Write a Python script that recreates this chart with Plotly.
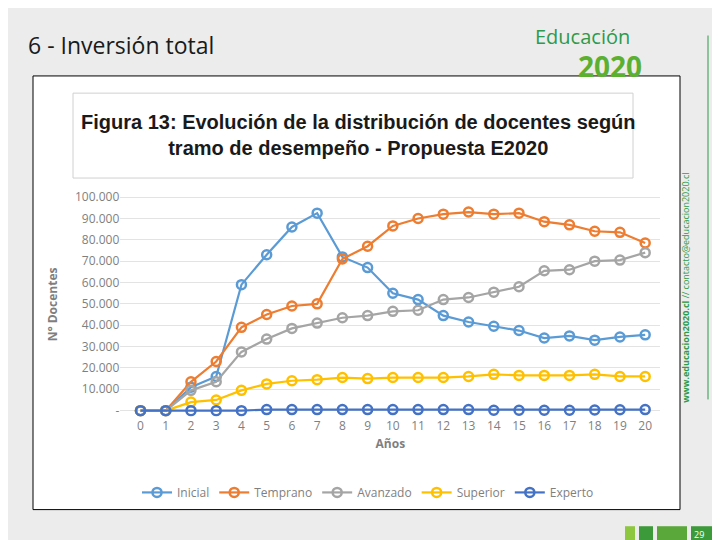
import plotly.graph_objects as go

years = list(range(21))
inicial = [0,0,11000,16000,59000,73000,86000,92500,72000,67000,55000,52000,44500,41500,39500,37500,34000,35000,33000,34500,35500]
temprano = [0,0,13500,23000,39000,45000,49000,50000,71000,77000,86500,90000,92000,93000,92000,92500,88500,87000,84000,83500,78500]
avanzado = [0,0,9500,13500,27500,33500,38500,41000,43500,44500,46500,47000,52000,53000,55500,58000,65500,66000,70000,70500,74000]
superior = [0,0,4000,5000,9500,12500,14000,14500,15500,15000,15500,15500,15500,16000,17000,16500,16500,16500,17000,16000,16000]
experto = [0,0,0,0,0,500,500,500,500,500,500,500,500,500,200,200,200,200,300,400,500]
names = ["Inicial", "Temprano", "Avanzado", "Superior", "Experto"]
colors = ["#5b9bd5", "#ed7d31", "#a5a5a5", "#ffc000", "#4472c4"]
ytickvals = [0,10000,20000,30000,40000,50000,60000,70000,80000,90000,100000]
yticktext = ["-","10.000","20.000","30.000","40.000","50.000","60.000","70.000","80.000","90.000","100.000"]

def py(ref):
    r = ref - 12 * (1 - ref / 540)
    return 1 - r / 540

fig = go.Figure()
for n, s, c in zip(names, [inicial, temprano, avanzado, superior, experto], colors):
    fig.add_trace(go.Scatter(x=years, y=s, name=n, mode="lines+markers",
        line=dict(color=c, width=2.2),
        marker=dict(symbol="circle-open", size=9, color=c, line=dict(width=2.5))))

fig.update_layout(
    width=720, height=540, margin=dict(l=0, r=0, t=0, b=0),
    paper_bgcolor="#ececec", plot_bgcolor="#f1f1f1",
    font=dict(family="Open Sans", color="#595959"),
    xaxis=dict(domain=[0.156, 0.906], range=[-0.8, 20.6], tickvals=years,
               showgrid=False, zeroline=False, tickfont=dict(size=12, color="#7f7f7f"),
               title=dict(text="<b>Años</b>", font=dict(size=12, color="#7f7f7f"), standoff=6)),
    yaxis=dict(domain=[py(412), py(190)], range=[-2800, 102300], tickvals=ytickvals, ticktext=yticktext,
               gridcolor="#e3e3e3", zeroline=False, tickfont=dict(size=12, color="#7f7f7f"),
               title=dict(text="<b>N° Docentes</b>", font=dict(size=12, color="#7f7f7f"), standoff=14)),
    legend=dict(orientation="h", x=0.5, xanchor="center", y=py(487), yanchor="middle",
                font=dict(size=12, color="#7f7f7f"), bgcolor="rgba(0,0,0,0)"),
    shapes=[
        dict(type="rect", xref="paper", yref="paper", x0=25/720, x1=672/720, y0=py(504), y1=py(75),
             fillcolor="white", line=dict(color="black", width=1), layer="below"),
        dict(type="rect", xref="paper", yref="paper", x0=65/720, x1=625/720, y0=py(176), y1=py(92),
             fillcolor="white", line=dict(color="#d0d0d0", width=1), layer="below"),
        dict(type="line", xref="paper", yref="paper", x0=700/720, x1=700/720, y0=py(395), y1=py(35),
             line=dict(color="#2e9a4a", width=1)),
        dict(type="rect", xref="paper", yref="paper", x0=683/720, x1=714/720, y0=0, y1=20/540,
             fillcolor="#3d9a3a", line=dict(width=0)),
        dict(type="rect", xref="paper", yref="paper", x0=617/720, x1=627/720, y0=0, y1=20/540,
             fillcolor="#8dc63f", line=dict(width=0)),
        dict(type="rect", xref="paper", yref="paper", x0=631/720, x1=645/720, y0=0, y1=20/540,
             fillcolor="#3d9a3a", line=dict(width=0)),
        dict(type="rect", xref="paper", yref="paper", x0=649/720, x1=679/720, y0=0, y1=20/540,
             fillcolor="#5aa83a", line=dict(width=0)),
    ],
    annotations=[
        dict(text="6 - Inversión total", xref="paper", yref="paper", x=18/720, y=py(44),
             xanchor="left", yanchor="middle", showarrow=False,
             font=dict(size=23, color="#1a1a1a", family="Open Sans")),
        dict(text="<b>Figura 13: Evolución de la distribución de docentes según<br>tramo de desempeño - Propuesta E2020</b>",
             xref="paper", yref="paper", x=350/720, y=py(108), yanchor="top", showarrow=False,
             font=dict(size=20, color="#1a1a1a", family="Liberation Sans Narrow, Liberation Sans")),
        dict(text="Educación", xref="paper", yref="paper", x=624/720, y=py(21), showarrow=False,
             font=dict(size=20, color="#2e9a4a", family="Open Sans")),
        dict(text="<b>2020</b>", xref="paper", yref="paper", x=636/720, y=py(44), showarrow=False,
             font=dict(size=28, color="#5cb030", family="Open Sans")),
        dict(text="<b>www.educacion2020.cl</b> // contacto@educacion2020.cl", xref="paper", yref="paper",
             x=686/720, y=py(285), textangle=-90, showarrow=False,
             font=dict(size=9, color="#2e9a4a")),
        dict(text="29", xref="paper", yref="paper", x=698/720, y=12/540, yanchor="middle", showarrow=False,
             font=dict(size=9, color="white")),
    ],
)
fig.write_html("out.html")
